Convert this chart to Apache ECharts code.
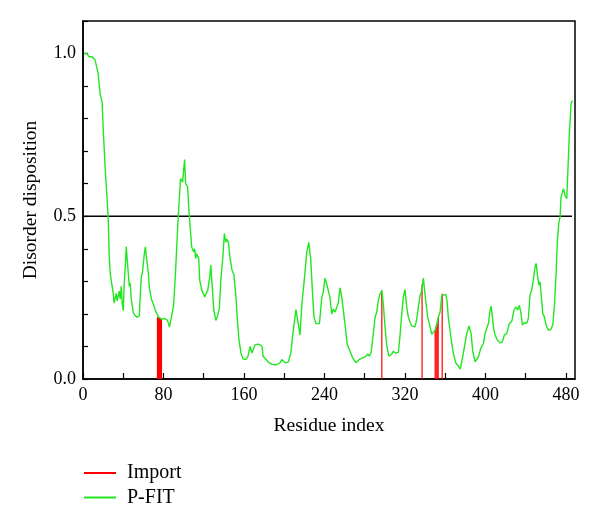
<!DOCTYPE html>
<html>
<head>
<meta charset="utf-8">
<script src="https://cdn.jsdelivr.net/npm/echarts@6/dist/echarts.min.js"></script>
<style>html,body{margin:0;padding:0;background:#fff}#c{width:600px;height:531px}</style>
</head>
<body>
<div id="c"></div>
<script>
var pfitResidue = [1,4,6,9,12,15,17,19,20,22,24,25,26,27,28.5,30,31,33,34,36,37,38,39,40,41,42,43,45,46,47,48,50,52,54,56,57,58,59,61,62,63,65,66,67,68,70,72,73,75,78,81,84,86,87,90,92,94,96,97,99,101,102,104,105,106.5,108,110,111,112,113,115,116,118,121,122,124,126,127,128.5,130,132,134,135.5,137,139,140.5,142,143,144.5,146,148,150,152,153.5,155,157,159,162,164,166,168,169,171,174,176,178,179,182,184,188,192,196,197.5,201,204,206.5,209,211.7,214,215.7,217.4,219,220.7,222.4,224.4,226.3,228,229.6,231.6,235,237.3,239,240.5,242,243.8,245.5,247.2,248.8,250.5,252,253.8,255.5,257.2,258.8,260.4,262.7,265.4,268,271.4,274.6,278,281.3,283,284.3,286.3,288.6,290.3,291.9,293.5,295.2,297,298.5,300.2,302,304,307,308.4,310.8,313.4,315,316.8,318.4,320,321.8,323.4,325,326.7,328.4,330,331.7,333.3,335,336.7,338.3,339.3,341,342.6,345,346.6,348.2,350,351.6,353.2,354.9,356.6,358.1,360.5,361.8,363.1,364.8,366.5,368,370.4,373,375,378,381.4,383.7,385.7,387.4,389.7,391.3,393,395.3,398,399.6,401.3,403,404.6,405.6,406.9,407.9,409.5,411.8,414.5,416.8,418.8,421.2,423.8,426.1,428.4,430.4,432,433.7,435.4,436.7,438.4,441,442.6,444.3,446,447.6,449.3,450.3,451.6,453,454.3,455.6,457,458.6,460.2,462.5,464.9,466.9,468.5,470.2,471.5,472.9,474.2,475.1,477.5,479.1,480.8,481.8,483.4,485.1,486.4];
var pfitValue = [1.00,1.00,0.99,0.99,0.98,0.94,0.876,0.85,0.774,0.65,0.55,0.50,0.386,0.325,0.294,0.263,0.233,0.263,0.24,0.27,0.245,0.285,0.233,0.21,0.294,0.345,0.406,0.325,0.285,0.294,0.245,0.204,0.194,0.19,0.194,0.263,0.315,0.325,0.386,0.406,0.375,0.325,0.28,0.263,0.245,0.229,0.21,0.204,0.19,0.184,0.186,0.18,0.16,0.164,0.225,0.33,0.46,0.57,0.616,0.605,0.674,0.60,0.59,0.53,0.467,0.406,0.39,0.40,0.37,0.385,0.37,0.304,0.273,0.252,0.248,0.273,0.314,0.35,0.283,0.212,0.18,0.196,0.216,0.304,0.375,0.447,0.42,0.43,0.42,0.375,0.335,0.32,0.252,0.18,0.12,0.08,0.062,0.06,0.07,0.1,0.08,0.085,0.105,0.107,0.105,0.1,0.07,0.06,0.052,0.045,0.043,0.05,0.06,0.05,0.052,0.078,0.15,0.213,0.168,0.135,0.225,0.275,0.33,0.39,0.42,0.37,0.27,0.19,0.17,0.17,0.25,0.27,0.31,0.295,0.29,0.25,0.2,0.215,0.205,0.21,0.235,0.28,0.25,0.21,0.168,0.105,0.085,0.065,0.05,0.06,0.065,0.07,0.077,0.07,0.08,0.14,0.19,0.205,0.24,0.262,0.272,0.23,0.16,0.1,0.07,0.077,0.085,0.08,0.082,0.13,0.2,0.252,0.275,0.22,0.19,0.175,0.163,0.166,0.16,0.184,0.22,0.256,0.272,0.31,0.28,0.23,0.19,0.16,0.137,0.137,0.15,0.17,0.19,0.205,0.256,0.262,0.26,0.24,0.19,0.15,0.11,0.08,0.05,0.04,0.03,0.079,0.14,0.163,0.14,0.084,0.053,0.05,0.068,0.094,0.109,0.14,0.145,0.171,0.212,0.224,0.191,0.16,0.135,0.12,0.111,0.114,0.135,0.14,0.171,0.176,0.212,0.222,0.212,0.227,0.2,0.166,0.173,0.171,0.186,0.258,0.273,0.304,0.345,0.355,0.324,0.288,0.299,0.252,0.2,0.191,0.166,0.15,0.152,0.166,0.222,0.324,0.426,0.478,0.498,0.559,0.585,0.564,0.554,0.631,0.754,0.846,0.856];
var importResidue = [74,75,76,77,78,297,337,350,351,352,353,357];
var importValue = [0.19,0.19,0.19,0.185,0.184,0.272,0.29,0.15,0.16,0.17,0.19,0.262];
var thresholdResidue = [0,486];
var thresholdValue = [0.5,0.5];
var xTicks = [0,80,160,240,320,400,480];
var yTicks = [0.0,0.5,1.0];

function zip(a,b){return a.map(function(v,i){return [v,b[i]];});}
var font = '"Liberation Serif","DejaVu Serif",serif';
var legendText = {fontFamily:font,fontSize:20,color:'#000',padding:[0,0,0,6]};
var chart = echarts.init(document.getElementById('c'), null, {renderer:'canvas'});
chart.setOption({
  animation:false,
  backgroundColor:'#fff',
  grid:{left:83,right:25,top:21,bottom:152,show:true,borderColor:'#000',borderWidth:1.5,backgroundColor:'transparent'},
  legend:[
    {left:84,top:463,padding:0,itemWidth:32,itemHeight:2,icon:'rect',textStyle:legendText,data:['Import']},
    {left:84,top:487.5,padding:0,itemWidth:32,itemHeight:2,icon:'rect',textStyle:legendText,data:['P-FIT']}
  ],
  xAxis:{
    type:'value',min:0,max:489,interval:40,
    name:'Residue index',nameLocation:'middle',nameGap:37,
    nameTextStyle:{fontFamily:font,fontSize:19.5,color:'#000'},
    axisLine:{show:true,onZero:false,lineStyle:{color:'#000',width:1.5}},
    axisTick:{show:true,inside:true,length:6,lineStyle:{color:'#000',width:1.2}},
    axisLabel:{fontFamily:font,fontSize:18,color:'#000',margin:7,showMaxLabel:false,
      formatter:function(v){return xTicks.indexOf(Math.round(v))>=0 && Math.abs(v-Math.round(v))<1e-6 ? String(Math.round(v)) : '';}},
    splitLine:{show:false}
  },
  yAxis:{
    type:'value',min:0,max:1.1,interval:0.1,
    name:'Disorder disposition',nameLocation:'middle',nameGap:42,
    nameTextStyle:{fontFamily:font,fontSize:19.5,color:'#000'},
    axisLine:{show:true,lineStyle:{color:'#000',width:1.5}},
    axisTick:{show:true,inside:true,length:5,lineStyle:{color:'#000',width:1.2}},
    axisLabel:{fontFamily:font,fontSize:18,color:'#000',margin:7,
      formatter:function(v){for(var i=0;i<yTicks.length;i++){if(Math.abs(v-yTicks[i])<1e-6)return yTicks[i].toFixed(1);}return '';}},
    splitLine:{show:false}
  },
  series:[
    {name:'Import',type:'bar',data:zip(importResidue,importValue),barWidth:1.2,itemStyle:{color:'#ff0000'},z:2,silent:true},
    {name:'threshold',type:'line',data:zip(thresholdResidue,thresholdValue),showSymbol:false,lineStyle:{color:'#000',width:1.5},z:3,silent:true},
    {name:'P-FIT',type:'line',data:zip(pfitResidue,pfitValue),showSymbol:false,symbol:'none',lineStyle:{color:'#22e622',width:1.4},itemStyle:{color:'#22e622'},z:4,silent:true}
  ]
});
</script>
</body>
</html>
